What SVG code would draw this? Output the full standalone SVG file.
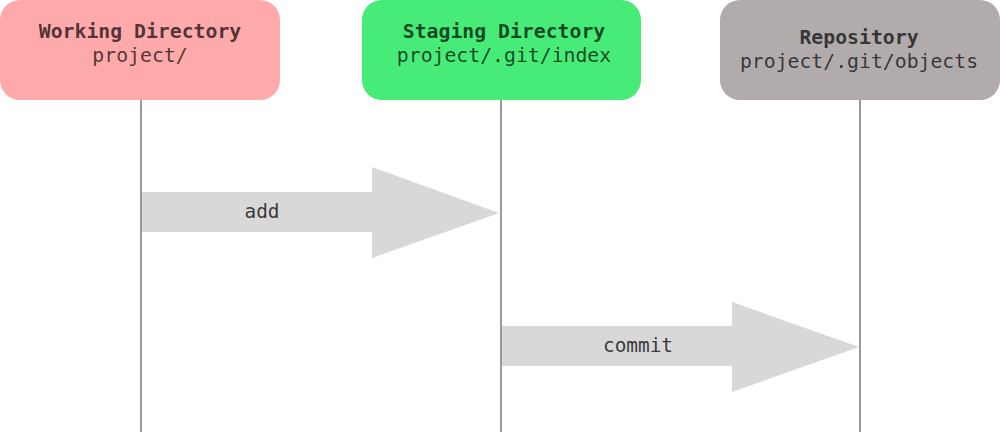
<svg xmlns="http://www.w3.org/2000/svg" width="1000" height="432" viewBox="0 0 1000 432">
  <style>
    .box { stroke: none; }
    .t { font-family: "DejaVu Sans Mono", "Liberation Mono", monospace; font-size: 19.8px; text-anchor: middle; fill: #000; fill-opacity: 0.7; }
    .b { font-weight: bold; }
    .life { stroke: #999999; stroke-width: 2; fill: none; }
    .arrow { fill: #d8d8d8; stroke: none; }
    .lbl { font-family: "DejaVu Sans Mono", "Liberation Mono", monospace; font-size: 19.4px; text-anchor: middle; fill: #3a3a3a; }
  </style>
  <rect width="1000" height="432" fill="#ffffff"/>
  <g id="connectors">
    <line class="life" x1="141" y1="100" x2="141" y2="432"/>
    <line class="life" x1="501" y1="100" x2="501" y2="432"/>
    <line class="life" x1="860" y1="100" x2="860" y2="432"/>
    <g id="add">
      <polygon class="arrow" points="142,192 372,192 372,167 499,213 372,258 372,232 142,232"/>
      <text class="lbl" x="262" y="218">add</text>
    </g>
    <g id="commit">
      <polygon class="arrow" points="502,326 732,326 732,302 859,347 732,392 732,366 502,366"/>
      <text class="lbl" x="638" y="352">commit</text>
    </g>
  </g>
  <g id="working">
    <rect class="box" x="0" y="0" width="280" height="100" rx="20" fill="#ffaaaa"/>
    <text class="t b" x="140" y="38">Working Directory</text>
    <text class="t" x="140" y="62">project/</text>
  </g>
  <g id="staging">
    <rect class="box" x="362" y="0" width="279" height="100" rx="20" fill="#46eb78"/>
    <text class="t b" x="504" y="38">Staging Directory</text>
    <text class="t" x="504" y="62">project/.git/index</text>
  </g>
  <g id="repository">
    <rect class="box" x="720" y="0" width="280" height="100" rx="20" fill="#b1abab"/>
    <text class="t b" x="859" y="44">Repository</text>
    <text class="t" x="859" y="68">project/.git/objects</text>
  </g>
</svg>
